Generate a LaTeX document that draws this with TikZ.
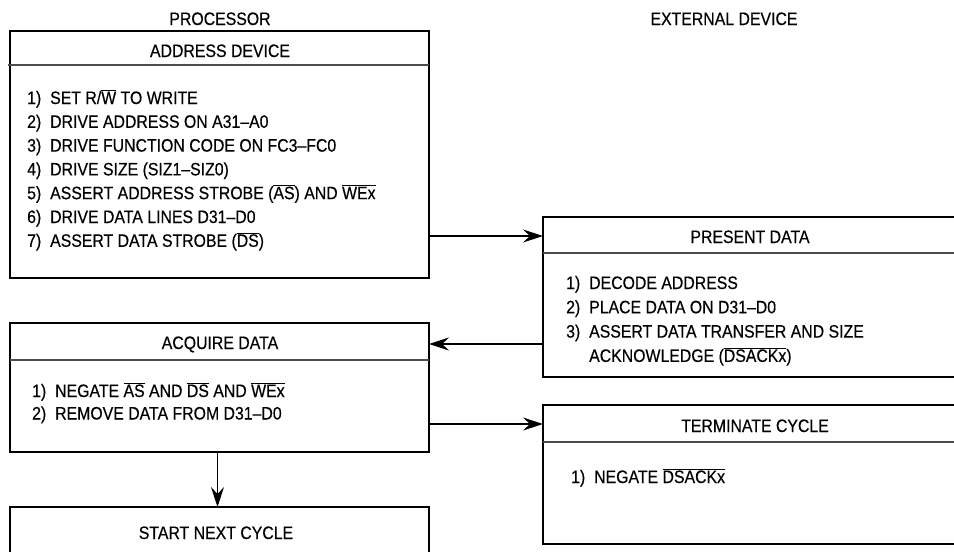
\documentclass[tikz,border=0pt]{standalone}
\usepackage{fontspec}
\setmainfont{Liberation Sans}[FakeStretch=0.88,FakeBold=0.4]
\usetikzlibrary{arrows.meta}
\newcommand\ovl[1]{$\overline{\mbox{#1}}$}
\newcommand\itm[2]{\makebox[23pt][l]{#1}#2}
\begin{document}
\begin{tikzpicture}[x=1pt,y=-1pt,
  box/.style={draw, line width=2.3pt, inner sep=0pt, outer sep=0pt, anchor=north west},
  divl/.style={line width=1.4pt, draw=black!70},
  ttl/.style={anchor=base, inner sep=0pt},
  ln/.style={anchor=base west, inner sep=0pt},
  arr/.style={line width=1.1pt, -{Stealth[length=20pt,width=13pt,inset=7pt]}},
  font=\fontsize{18}{24}\selectfont]
\useasboundingbox (0,0) rectangle (954,552);
\clip (0,0) rectangle (954,552);
% boxes
\node[box, minimum width=419pt, minimum height=247pt] (addr) at (10,31) {};
\node[box, minimum width=419pt, minimum height=160pt] (pres) at (543,217) {};
\node[box, minimum width=419pt, minimum height=129pt] (acq) at (10,323) {};
\node[box, minimum width=419pt, minimum height=139pt] (term) at (543,405) {};
\node[box, minimum width=419pt, minimum height=80pt] (start) at (10,507) {};
% dividers
\draw[divl] ([xshift=-2pt]addr.west |- 0,65) -- (addr.east |- 0,65);
\draw[divl] (pres.west |- 0,253) -- (pres.east |- 0,253);
\draw[divl] (acq.west |- 0,360) -- (acq.east |- 0,360);
\draw[divl] (term.west |- 0,442) -- (term.east |- 0,442);
% headings
\node[ttl] (tproc) at (220,25) {PROCESSOR};
\node[ttl] (text) at (724,25) {EXTERNAL DEVICE};
\node[ttl] (taddr) at (220,57) {ADDRESS DEVICE};
\node[ttl] (tpres) at (750,243) {PRESENT DATA};
\node[ttl] (tacq) at (220,349) {ACQUIRE DATA};
\node[ttl] (tterm) at (755,432) {TERMINATE CYCLE};
\node[ttl] (tstart) at (216,539) {START NEXT CYCLE};
% lists
\foreach \t [count=\i] in {
  {\itm{1)}{SET R/\ovl{W} TO WRITE}},
  {\itm{2)}{DRIVE ADDRESS ON A31–A0}},
  {\itm{3)}{DRIVE FUNCTION CODE ON FC3–FC0}},
  {\itm{4)}{DRIVE SIZE (SIZ1–SIZ0)}},
  {\itm{5)}{ASSERT ADDRESS STROBE (\ovl{AS}) AND \ovl{WEx}}},
  {\itm{6)}{DRIVE DATA LINES D31–D0}},
  {\itm{7)}{ASSERT DATA STROBE (\ovl{DS})}}}
  \node[ln] (la\i) at (27,{104+23.8*(\i-1)}) {\t};
\foreach \t [count=\i] in {
  {\itm{1)}{DECODE ADDRESS}},
  {\itm{2)}{PLACE DATA ON D31–D0}},
  {\itm{3)}{ASSERT DATA TRANSFER AND SIZE}},
  {\itm{}{ACKNOWLEDGE (\ovl{DSACKx})}}}
  \node[ln] (lp\i) at (566,{289+24.3*(\i-1)}) {\t};
\foreach \t [count=\i] in {
  {\itm{1)}{NEGATE \ovl{AS} AND \ovl{DS} AND \ovl{WEx}}},
  {\itm{2)}{REMOVE DATA FROM D31–D0}}}
  \node[ln] (lq\i) at (32,{397+22.5*(\i-1)}) {\t};
\node[ln] (lt1) at (571,483) {\itm{1)}{NEGATE \ovl{DSACKx}}};
% connectors
\draw[arr] (addr.east |- 0,236) -- (pres.west |- 0,236);
\draw[arr] (pres.west |- 0,344) -- (acq.east |- 0,344);
\draw[arr] (acq.east |- 0,424) -- (term.west |- 0,424);
\draw[arr] ([xshift=-2pt]acq.south) -- ([xshift=-2pt]start.north);
\end{tikzpicture}
\end{document}
